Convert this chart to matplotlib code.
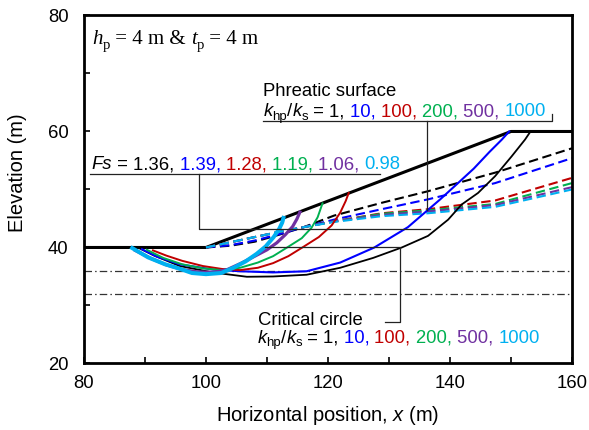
import matplotlib
matplotlib.use("Agg")
import matplotlib.pyplot as plt

plt.rcParams["font.family"] = ["Liberation Sans", "DejaVu Sans"]
plt.rcParams["mathtext.fontset"] = "custom"
plt.rcParams["mathtext.rm"] = "Liberation Sans"
plt.rcParams["mathtext.it"] = "Liberation Sans:italic"

# ground surface
ground_x = [80, 100, 150, 160]
ground_y = [40, 40, 60, 60]

# layer boundaries (dash-dot)
layer_y = [36, 32]

ratios = ["1", "10", "100", "200", "500", "1000"]
fs_values = ["1.36", "1.39", "1.28", "1.19", "1.06", "0.98"]
colors = ["#000000", "#0000FF", "#C00000", "#00B050", "#7030A0", "#00B0F0"]
circle_lw = [1.3, 1.5, 1.4, 1.4, 2.3, 2.9]

# critical slip circles
circle_x = [
    [89.2, 91.5, 95.7, 101.1, 106.7, 111.0, 116.5, 122.0, 127.4, 132.1, 136.4, 139.7, 141.9, 144.6, 147.4, 150.1, 152.3, 153.2],
    [89.5, 92.0, 95.7, 101.1, 105.6, 111.0, 116.5, 122.0, 127.6, 133.1, 138.4, 141.0, 143.9, 146.5, 148.5, 149.7],
    [91.3, 93.5, 96.1, 99.5, 102.6, 105.6, 108.5, 111.0, 113.5, 115.8, 118.5, 120.6, 122.0, 122.9, 123.4],
    [90.3, 93.0, 96.1, 99.5, 102.6, 105.6, 108.5, 111.0, 113.3, 115.7, 117.3, 118.3, 118.9, 119.1],
    [88.4, 91.0, 93.5, 96.1, 98.5, 101.2, 103.5, 105.8, 108.0, 110.0, 111.6, 113.0, 114.2, 114.9, 115.4],
    [87.9, 90.5, 93.3, 95.5, 97.7, 100.0, 102.5, 104.5, 106.5, 108.3, 109.8, 111.1, 112.0, 112.5, 112.7],
]
circle_y = [
    [39.8, 38.6, 36.8, 35.7, 34.95, 35.0, 35.3, 36.5, 38.2, 40.0, 42.0, 44.8, 47.4, 49.4, 52.3, 55.7, 58.6, 60.0],
    [39.7, 38.4, 37.1, 36.2, 35.9, 35.7, 35.9, 37.4, 40.0, 43.5, 48.3, 50.8, 53.6, 56.5, 58.6, 60.0],
    [39.5, 38.6, 37.7, 36.8, 36.3, 36.1, 36.5, 37.3, 38.5, 40.0, 41.8, 43.8, 46.0, 48.0, 49.4],
    [39.6, 38.2, 37.1, 36.4, 36.1, 36.5, 37.4, 38.5, 40.0, 41.6, 43.4, 45.2, 47.0, 47.6],
    [39.5, 38.1, 37.0, 36.2, 35.8, 35.7, 36.2, 37.3, 38.5, 39.6, 40.8, 42.2, 43.6, 44.9, 46.1],
    [39.9, 38.3, 37.1, 36.4, 35.6, 35.4, 35.6, 36.5, 37.6, 38.9, 40.2, 41.8, 43.2, 44.3, 45.1],
]

# phreatic surfaces
phreatic_x = [100, 104, 108, 112, 116, 121, 128.8, 136.4, 147.4, 160]
phreatic_y = [
    [40, 40.3, 41.0, 42.2, 43.5, 45.5, 47.7, 49.7, 52.9, 57.1],
    [40, 40.4, 41.2, 42.3, 43.5, 44.8, 46.6, 48.3, 51.1, 55.4],
    [40, 40.9, 41.8, 42.7, 43.5, 44.5, 45.9, 46.6, 48.1, 52.0],
    [40, 40.9, 41.8, 42.7, 43.5, 44.5, 45.8, 46.4, 47.5, 51.1],
    [40, 40.9, 41.8, 42.7, 43.5, 44.5, 45.6, 46.2, 47.3, 50.4],
    [40, 40.9, 41.8, 42.7, 43.5, 44.4, 45.4, 45.9, 47.0, 50.0],
]

fig = plt.figure(figsize=(5.89, 4.30), dpi=100)
ax = fig.add_axes([0.1426, 0.1547, 0.8285, 0.8093])

for yl in layer_y:
    ax.axhline(yl, color="#333333", lw=0.9, dashes=(6, 2.5, 1.2, 2.5))

ax.plot(ground_x, ground_y, color="black", lw=2.2, solid_capstyle="butt")

for i in range(6):
    ax.plot(phreatic_x, phreatic_y[i], color=colors[i], lw=1.5, linestyle=(0, (4.5, 2.2)))
for i in range(6):
    ax.plot(circle_x[i], circle_y[i], color=colors[i], lw=circle_lw[i])

# leader lines
lc = "#222222"
ax.plot([109.3, 156.7, 156.7], [61.8, 61.8, 63.0], color=lc, lw=0.9)
ax.plot([136.2, 136.2], [61.8, 46.5], color=lc, lw=0.9)
ax.plot([81.0, 128.5], [52.6, 52.6], color=lc, lw=0.9)
ax.plot([98.9, 98.9, 136.7], [52.6, 43.1, 43.1], color=lc, lw=0.9)
ax.plot([129.3, 131.8, 131.8, 109.7], [27.1, 27.1, 40.0, 40.0], color=lc, lw=0.9)

ax.set_xlim(80, 160)
ax.set_ylim(20, 80)
ax.set_xticks([80, 100, 120, 140, 160])
ax.set_xticks([90, 110, 130, 150], minor=True)
ax.set_yticks([20, 40, 60, 80])
ax.set_yticks([30, 50, 70], minor=True)
ax.tick_params(which="both", direction="in", length=4, width=1.2, labelsize=13.3)
ax.tick_params(axis="y", pad=11)
ax.tick_params(axis="x", pad=8)
for sp in ax.spines.values():
    sp.set_linewidth(2.0)

ax.set_xlabel("Horizontal position, $x$ (m)", fontsize=14.5)
ax.set_ylabel("Elevation (m)", fontsize=14.5)
ax.xaxis.set_label_coords(0.5, -0.116)
ax.yaxis.set_label_coords(-0.117, 0.547)

renderer = fig.canvas.get_renderer()


def text_width(s, **kw):
    t1 = fig.text(0, 0, "|" + s + "|", **kw)
    t2 = fig.text(0, 0, "||", **kw)
    w = t1.get_window_extent(renderer).width - t2.get_window_extent(renderer).width
    t1.remove()
    t2.remove()
    return w


def rich_text(x, y, parts):
    bx, by = ax.transData.transform((x, y))
    for s, kw in parts:
        kw = dict(kw)
        dy = kw.pop("dy", 0) * fig.dpi / 72.0
        px, py = ax.transData.inverted().transform((bx, by + dy))
        ax.text(px, py, s, ha="left", va="baseline", **kw)
        bx += text_width(s, **kw)


fsz = 13.3
sub = dict(fontsize=9.5, dy=-2.5)


def ratio_parts():
    parts = [("k", dict(fontsize=fsz, style="italic")),
             ("hp", sub),
             ("/", dict(fontsize=fsz)),
             ("k", dict(fontsize=fsz, style="italic")),
             ("s", sub),
             (" = ", dict(fontsize=fsz))]
    for i, r in enumerate(ratios):
        s = r + (", " if i < len(ratios) - 1 else "")
        parts.append((s, dict(fontsize=fsz, color=colors[i])))
    return parts


serif = ["Liberation Serif", "DejaVu Serif"]
rich_text(81.3, 75.0, [
    ("h", dict(fontsize=15, family=serif, style="italic")),
    ("p", dict(fontsize=10.5, family=serif, dy=-3)),
    (" = 4 m & ", dict(fontsize=15, family=serif)),
    ("t", dict(fontsize=15, family=serif, style="italic")),
    ("p", dict(fontsize=10.5, family=serif, dy=-3)),
    (" = 4 m", dict(fontsize=15, family=serif)),
])

rich_text(109.4, 66.2, [("Phreatic surface", dict(fontsize=fsz))])
rich_text(109.4, 62.6, ratio_parts())

fs_parts = [("Fs", dict(fontsize=fsz, style="italic")), (" = ", dict(fontsize=fsz))]
for i, v in enumerate(fs_values):
    s = v + (", " if i < len(fs_values) - 1 else "")
    fs_parts.append((s, dict(fontsize=fsz, color=colors[i])))
rich_text(81.3, 53.45, fs_parts)

rich_text(108.6, 26.55, [("Critical circle", dict(fontsize=fsz))])
rich_text(108.4, 23.6, ratio_parts())

fig.savefig("out.png", dpi=100)
